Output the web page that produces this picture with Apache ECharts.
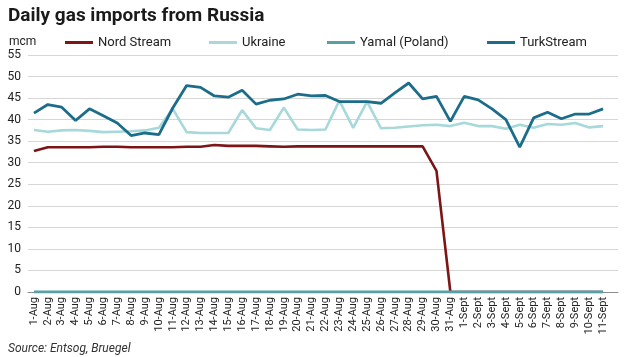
<!DOCTYPE html>
<html><head><meta charset="utf-8">
<script src="https://cdn.jsdelivr.net/npm/echarts@6/dist/echarts.min.js"></script>
<style>html,body{margin:0;padding:0;background:#fff}#c{width:624px;height:357px}</style>
</head><body><div id="c"></div>
<script>
var categories = ['1-Aug','2-Aug','3-Aug','4-Aug','5-Aug','6-Aug','7-Aug','8-Aug','9-Aug','10-Aug','11-Aug','12-Aug','13-Aug','14-Aug','15-Aug','16-Aug','17-Aug','18-Aug','19-Aug','20-Aug','21-Aug','22-Aug','23-Aug','24-Aug','25-Aug','26-Aug','27-Aug','28-Aug','29-Aug','30-Aug','31-Aug','1-Sept','2-Sept','3-Sept','4-Sept','5-Sept','6-Sept','7-Sept','8-Sept','9-Sept','10-Sept','11-Sept'];
var nordStream = [32.7,33.6,33.6,33.6,33.6,33.7,33.7,33.6,33.6,33.6,33.6,33.7,33.7,34.1,33.9,33.9,33.9,33.8,33.7,33.8,33.8,33.8,33.8,33.8,33.8,33.8,33.8,33.8,33.8,28.1,0,0,0,0,0,0,0,0,0,0,0,0];
var ukraine = [37.6,37.2,37.5,37.6,37.4,37.1,37.2,37.3,37.5,38.1,42.5,37.1,36.9,36.9,36.9,42.2,38.0,37.6,42.8,37.7,37.6,37.7,44.4,38.1,44.2,38.0,38.1,38.4,38.7,38.8,38.5,39.3,38.5,38.5,37.9,38.8,38.1,39.0,38.8,39.2,38.2,38.5];
var yamal = [0,0,0,0,0,0,0,0,0,0,0,0,0,0,0,0,0,0,0,0,0,0,0,0,0,0,0,0,0,0,0,0,0,0,0,0,0,0,0,0,0,0];
var turkStream = [41.5,43.5,42.9,39.8,42.5,40.9,39.2,36.3,36.9,36.5,42.7,47.9,47.5,45.5,45.2,46.8,43.6,44.5,44.8,45.9,45.5,45.6,44.2,44.2,44.2,43.8,46.2,48.5,44.8,45.4,39.6,45.4,44.6,42.5,40.0,33.6,40.4,41.7,40.2,41.3,41.3,42.5];
var seriesNames = ['Nord Stream','Ukraine','Yamal (Poland)','TurkStream'];
var colors = ['#7d1416','#a7d8da','#56a0a6','#1c6d89'];
var legendLeft = [60,204,322,482];

var FONT = 'Roboto';
var chart = echarts.init(document.getElementById('c'), null, {renderer:'canvas'});
var seriesData = [nordStream, ukraine, yamal, turkStream];
var widths = [2.6, 2.6, 3.2, 2.8];
var series = seriesData.map(function(d,i){
  return {name:seriesNames[i], type:'line', xAxisIndex:1, yAxisIndex:1, data:d, symbol:'none',
    lineStyle:{color:colors[i], width:widths[i]}, itemStyle:{color:colors[i]}, z:2+i, animation:false};
});
var legends = seriesNames.map(function(n,i){
  return {data:[n], left:legendLeft[i], top:31, itemWidth:28, itemHeight:3, icon:'rect', itemGap:6,
    textStyle:{fontFamily:FONT, fontSize:13, color:'#222'}};
});
chart.setOption({
  animation:false,
  title:[{text:'Daily gas imports from Russia', left:3, top:2, textStyle:{fontFamily:FONT, fontWeight:'bold', fontSize:19, color:'#1a1a1a'}},
         {text:'Source: Entsog, Bruegel', left:3, top:338, textStyle:{fontFamily:FONT, fontStyle:'italic', fontWeight:'normal', fontSize:12, color:'#333'}},
         {text:'mcm', left:4, top:31, textStyle:{fontFamily:FONT, fontWeight:'normal', fontSize:12, color:'#222'}}],
  legend:legends,
  grid:[{left:28, right:6, top:55, bottom:65},{left:27, width:583, top:55, bottom:65}],
  xAxis:[
    {gridIndex:0, type:'value', min:0, max:1, axisLine:{show:true, onZero:false, lineStyle:{color:'#8c8c8c', width:1}}, axisTick:{show:false}, axisLabel:{show:false}, splitLine:{show:false}},
    {gridIndex:1, type:'category', data:categories, boundaryGap:true, axisLine:{show:false}, axisTick:{show:false},
      axisLabel:{rotate:90, interval:0, margin:5, fontFamily:FONT, fontSize:11, color:'#222'}}
  ],
  yAxis:[
    {gridIndex:0, type:'value', min:0, max:55, interval:5, axisLine:{show:false}, axisTick:{show:false},
      axisLabel:{margin:7, fontFamily:FONT, fontSize:12, color:'#222'}, splitLine:{lineStyle:{color:'#d6d6d6', width:1}}},
    {gridIndex:1, type:'value', min:0, max:55, interval:5, show:false, splitLine:{show:false}}
  ],
  series:series
});
</script></body></html>
